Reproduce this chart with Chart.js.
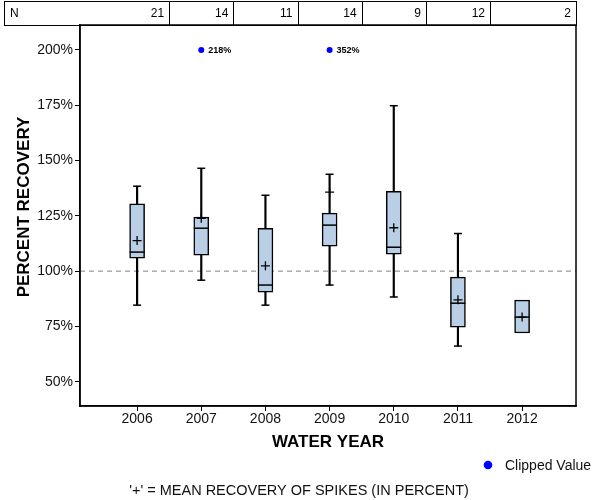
<!DOCTYPE html>
<html>
<head>
<meta charset="utf-8">
<script src="https://cdn.jsdelivr.net/npm/chart.js@4"></script>
<style>
  body { margin: 0; background: #fff; }
  #wrap { width: 600px; height: 500px; }
</style>
</head>
<body>
<div id="wrap"><canvas id="myChart" width="600" height="500"></canvas></div>
<script>
// dados
const years = ['2006', '2007', '2008', '2009', '2010', '2011', '2012'];
const nCounts = [21, 14, 11, 14, 9, 12, 2];
const whiskerLow = [84.6, 95.9, 84.6, 93.7, 88.3, 66.1, null];
const q1 = [105.9, 107.2, 90.5, 111.3, 107.7, 74.7, 72.0];
const median = [108.6, 119.4, 93.7, 120.8, 110.8, 85.5, 79.2];
const q3 = [130.4, 124.4, 119.3, 126.2, 136.1, 97.3, 86.9];
const whiskerHigh = [138.4, 146.5, 134.3, 143.8, 174.8, 117.0, null];
const mean = [113.8, 123.9, 102.4, 135.7, 119.6, 87.0, 79.2];
const clippedYears = ['2007', '2009'];
const clippedValues = [218, 352];
const clipLimit = 200;
const yTicks = [50, 75, 100, 125, 150, 175, 200];
const refValue = 100;

const FONT = "'Liberation Sans', Arial, sans-serif";
const boxColor = '#b9cfe6';

function idx(y) { return years.indexOf(y); }

let whiskerData = [];
let capData = [];
for (let i = 0; i < years.length; i++) {
  if (whiskerLow[i] != null) {
    whiskerData.push({x: i, y: [whiskerLow[i], q1[i]]});
    capData.push({x: i, y: whiskerLow[i]});
  }
  if (whiskerHigh[i] != null) {
    whiskerData.push({x: i, y: [q3[i], whiskerHigh[i]]});
    capData.push({x: i, y: whiskerHigh[i]});
  }
}

const extras = {
  id: 'extras',
  beforeDatasetsDraw(chart) {
    const ctx = chart.ctx;
    const a = chart.chartArea;
    const y = chart.scales.y.getPixelForValue(refValue);
    ctx.save();
    ctx.strokeStyle = '#808080';
    ctx.lineWidth = 1;
    ctx.setLineDash([5, 4]);
    ctx.beginPath();
    ctx.moveTo(a.left, y);
    ctx.lineTo(a.right, y);
    ctx.stroke();
    ctx.restore();
  },
  afterDraw(chart) {
    const ctx = chart.ctx;
    const a = chart.chartArea;
    const xs = chart.scales.x;
    ctx.save();
    // moldura
    ctx.strokeStyle = '#000';
    ctx.lineWidth = 1.5;
    ctx.strokeRect(a.left, a.top, a.right - a.left, a.bottom - a.top);

    // tabela N
    const top = 1, bot = a.top, left = 4, right = a.right;
    ctx.lineWidth = 1;
    ctx.strokeRect(left + 0.5, top + 0.5, right - left, bot - top);
    ctx.font = '12px ' + FONT;
    ctx.fillStyle = '#000';
    ctx.textBaseline = 'middle';
    ctx.textAlign = 'left';
    ctx.fillText('N', 10, (top + bot) / 2 + 1);
    for (let i = 0; i < years.length; i++) {
      let cellRight = i < years.length - 1 ? (xs.getPixelForValue(i) + xs.getPixelForValue(i + 1)) / 2 : right;
      if (i < years.length - 1) {
        ctx.beginPath();
        ctx.moveTo(Math.round(cellRight) + 0.5, top);
        ctx.lineTo(Math.round(cellRight) + 0.5, bot);
        ctx.stroke();
      }
      ctx.textAlign = 'right';
      ctx.fillText(String(nCounts[i]), cellRight - 5, (top + bot) / 2 + 1);
    }

    // rotulos dos valores cortados
    const meta = chart.getDatasetMeta(5);
    ctx.font = 'bold 9px ' + FONT;
    ctx.textAlign = 'left';
    meta.data.forEach((pt, i) => {
      ctx.fillText(clippedValues[i] + '%', pt.x + 7, pt.y + 1);
    });

    // titulos dos eixos
    ctx.font = 'bold 17px ' + FONT;
    ctx.textAlign = 'center';
    ctx.fillText('WATER YEAR', (a.left + a.right) / 2, 442);
    ctx.save();
    ctx.translate(24, 207);
    ctx.rotate(-Math.PI / 2);
    ctx.fillText('PERCENT RECOVERY', 0, 0);
    ctx.restore();

    // legenda
    ctx.fillStyle = '#0000ff';
    ctx.beginPath();
    ctx.arc(488, 465, 4.3, 0, Math.PI * 2);
    ctx.fill();
    ctx.fillStyle = '#111';
    ctx.font = '14px ' + FONT;
    ctx.textAlign = 'left';
    ctx.fillText('Clipped Value', 505, 466);

    ctx.font = '14.5px ' + FONT;
    ctx.textAlign = 'center';
    ctx.fillText("'+' = MEAN RECOVERY OF SPIKES (IN PERCENT)", 299, 491);
    ctx.restore();
  }
};

const ctx = document.getElementById('myChart');
new Chart(ctx, {
  type: 'bar',
  data: {
    datasets: [
      {
        label: 'whiskers',
        data: whiskerData,
        backgroundColor: '#000',
        barThickness: 1.5,
        grouped: false,
        order: 3
      },
      {
        label: 'box',
        data: years.map((y, i) => ({x: i, y: [q1[i], q3[i]]})),
        backgroundColor: boxColor,
        borderColor: '#000',
        borderWidth: 1.5,
        borderSkipped: false,
        barThickness: 15,
        grouped: false,
        order: 2
      },
      {
        type: 'scatter',
        label: 'caps',
        data: capData,
        pointStyle: 'line',
        radius: 4,
        borderColor: '#000',
        borderWidth: 1.5,
        order: 1
      },
      {
        type: 'scatter',
        label: 'median',
        data: years.map((y, i) => ({x: i, y: median[i]})),
        pointStyle: 'line',
        radius: 7.5,
        borderColor: '#000',
        borderWidth: 1.5,
        order: 1
      },
      {
        type: 'scatter',
        label: 'mean',
        data: years.map((y, i) => ({x: i, y: mean[i]})),
        pointStyle: 'cross',
        radius: 4.5,
        borderColor: '#000',
        borderWidth: 1.3,
        order: 0
      },
      {
        type: 'scatter',
        label: 'Clipped Value',
        data: clippedYears.map(y => ({x: idx(y), y: clipLimit})),
        pointStyle: 'circle',
        radius: 3,
        backgroundColor: '#0000ff',
        borderColor: '#0000ff',
        borderWidth: 0,
        order: 0
      }
    ]
  },
  options: {
    responsive: false,
    animation: false,
    layout: { padding: { top: 25, right: 24, left: 0, bottom: 0 } },
    plugins: {
      legend: { display: false },
      tooltip: { enabled: false }
    },
    scales: {
      x: {
        type: 'linear',
        offset: false,
        min: -0.89,
        max: 6.84,
        afterBuildTicks: (s) => { s.ticks = years.map((y, i) => ({value: i})); },
        afterFit: (s) => { s.height = 94; },
        ticks: {
          callback: (v) => years[v],
          font: { family: FONT, size: 14 },
          color: '#111',
          padding: 0,
          maxRotation: 0
        },
        grid: { offset: false, drawOnChartArea: false, tickLength: 5, color: '#000' },
        border: { color: '#000', width: 1.5 }
      },
      y: {
        min: 39,
        max: 211.3,
        afterBuildTicks: (s) => { s.ticks = yTicks.map(v => ({value: v})); },
        afterFit: (s) => { s.width = 80; },
        ticks: {
          callback: (v) => v + '%',
          font: { family: FONT, size: 14 },
          color: '#111',
          padding: 2
        },
        grid: { drawOnChartArea: false, tickLength: 5, color: '#000' },
        border: { color: '#000', width: 1.5 }
      }
    }
  },
  plugins: [extras]
});
</script>
</body>
</html>
